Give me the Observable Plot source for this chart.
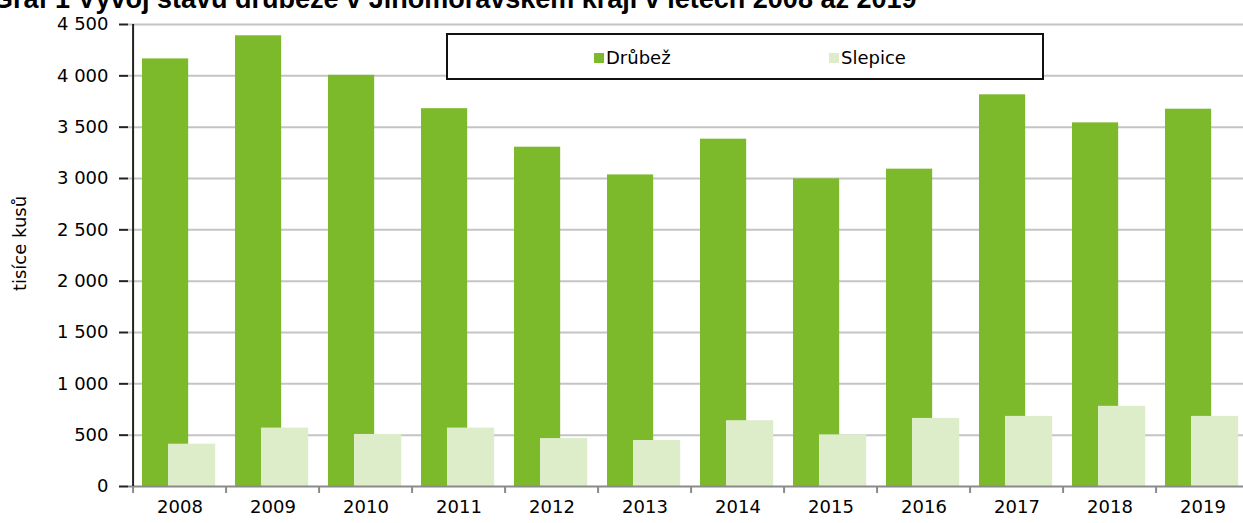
<!DOCTYPE html>
<html><head><meta charset="utf-8">
<script src="https://cdn.jsdelivr.net/npm/d3@7"></script>
<script src="https://cdn.jsdelivr.net/npm/@observablehq/plot@0.6"></script>
<style>
html,body{margin:0;padding:0;background:#fff;overflow:hidden;}
#wrap{position:relative;width:1243px;height:523px;overflow:hidden;}
#title{position:absolute;left:-8px;top:-14px;font:bold 27px "Liberation Sans",Arial,sans-serif;line-height:27px;white-space:nowrap;color:#000;}
#legend{position:absolute;left:446px;top:33px;width:594px;height:43px;border:2px solid #111;background:#fff;font:18px "DejaVu Sans",sans-serif;}
.item{position:absolute;top:12px;display:flex;align-items:center;}
.sw{width:10px;height:10px;margin-right:2px;}
</style></head>
<body><div id="wrap"><div id="title"></div><div id="legend"></div></div>
<script>
const title = "Graf 1 Vývoj stavu drůbeže v Jihomoravském kraji v letech 2008 až 2019";
const years = ["2008","2009","2010","2011","2012","2013","2014","2015","2016","2017","2018","2019"];
const drubez = [4165, 4390, 4005, 3680, 3305, 3035, 3383, 2997, 3091, 3815, 3542, 3675];
const slepice = [412, 569, 507, 569, 467, 448, 641, 503, 663, 683, 781, 683];
const seriesNames = ["Drůbež", "Slepice"];
const seriesColors = ["#7cba2b", "#ddedca"];
const yTicks = [0, 500, 1000, 1500, 2000, 2500, 3000, 3500, 4000, 4500];
const yLabel = "tisíce kusů";

document.getElementById("title").textContent = title;
const leg = document.getElementById("legend");
const legPos = [146, 381];
seriesNames.forEach((n, i) => {
  const it = document.createElement("div");
  it.className = "item"; it.style.left = legPos[i] + "px";
  it.innerHTML = `<span class="sw" style="background:${seriesColors[i]}"></span><span>${n}</span>`;
  leg.appendChild(it);
});

const data1 = years.map((y, i) => ({year: y, v: drubez[i]}));
const data2 = years.map((y, i) => ({year: y, v: slepice[i]}));
const W = 1243, ML = 128, MR = -11;
const bw = (W - ML - MR) / years.length;
const fmt = d => d3.format(",")(d).replace(/,/g, "\u00a0");

const chart = Plot.plot({
  width: W, height: 523,
  marginLeft: ML, marginRight: MR, marginTop: 24, marginBottom: 37,
  style: {fontFamily: "DejaVu Sans, sans-serif", fontSize: "18px", color: "#000", background: "transparent", overflow: "hidden"},
  x: {domain: years, padding: 0, label: null},
  y: {domain: [0, 4500], label: null},
  marks: [
    Plot.ruleY(yTicks.slice(1), {stroke: "#c4c4c4", strokeWidth: 2}),
    Plot.barY(data1, {x: "year", y: "v", fill: seriesColors[0], insetLeft: 9, insetRight: bw - 56}),
    Plot.barY(data2, {x: "year", y: "v", fill: seriesColors[1], insetLeft: 35, insetRight: bw - 83}),
    Plot.ruleY([0], {stroke: "#8a8a8a", strokeWidth: 2}),
    Plot.axisX({tickSize: 7, text: null, label: null, dx: -bw / 2, stroke: "#8a8a8a", strokeWidth: 2}),
    Plot.axisX({tickSize: 0, tickPadding: 14, fontSize: 18, label: null}),
    Plot.ruleX([years[0]], {dx: -bw / 2, y1: 0, y2: 4500, stroke: "#222", strokeWidth: 2}),
    Plot.axisY({ticks: yTicks, tickSize: 9, tickPadding: 11, tickFormat: fmt, label: null, fontSize: 18, stroke: "#222", strokeWidth: 2}),
    Plot.text([yLabel], {frameAnchor: "left", textAnchor: "middle", dx: -108, dy: -12, rotate: -90, fontSize: 18})
  ]
});
document.getElementById("wrap").prepend(chart);
chart.style.position = "absolute"; chart.style.left = "0"; chart.style.top = "0";
</script></body></html>
